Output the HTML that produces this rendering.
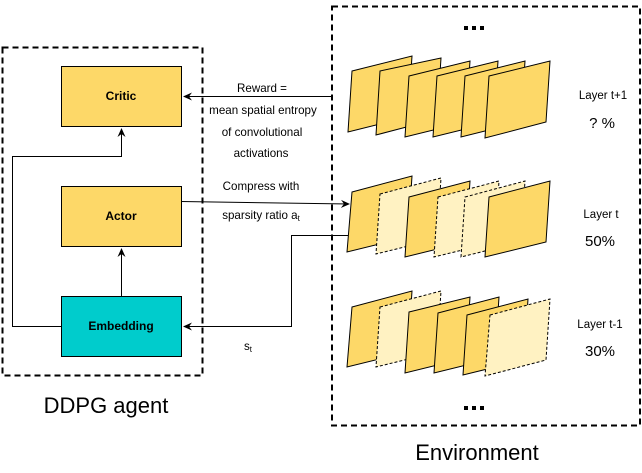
<!DOCTYPE html>
<html><head><meta charset="utf-8"><style>
html,body{margin:0;padding:0;background:#fff;}
svg{display:block;font-family:"Liberation Sans",Arial,sans-serif;}
</style></head><body>
<svg width="642" height="473" viewBox="0 0 642 473" xmlns="http://www.w3.org/2000/svg">
<defs>
<marker id="ar" markerWidth="10" markerHeight="10" refX="8" refY="5" orient="auto" markerUnits="userSpaceOnUse">
<path d="M0,1 L9,5 L0,9 L3,5 Z" fill="#000"/>
</marker>
</defs>
<rect x="2.5" y="47.5" width="200" height="328" fill="none" stroke="#000" stroke-width="2" stroke-dasharray="6,4"/>
<rect x="332" y="6.5" width="308" height="419" fill="none" stroke="#000" stroke-width="2" stroke-dasharray="6,4"/>
<rect x="61.5" y="66.5" width="120" height="60" fill="#FDD868" stroke="#000"/>
<rect x="61.5" y="186.5" width="120" height="60" fill="#FDD868" stroke="#000"/>
<rect x="61.5" y="296.5" width="120" height="60" fill="#00CCCC" stroke="#000"/>
<g font-weight="bold" font-size="12" text-anchor="middle">
<text x="121" y="100">Critic</text>
<text x="121" y="220">Actor</text>
<text x="121" y="330">Embedding</text>
</g>
<g fill="none" stroke="#000" stroke-width="1">
<path d="M121.5,296 V249" marker-end="url(#ar)"/>
<path d="M61,326.5 H12.5 V156.5 H121.5 V129" marker-end="url(#ar)"/>
<path d="M332,96.5 H184" marker-end="url(#ar)"/>
<path d="M181,201.5 L349,204" marker-end="url(#ar)"/>
<path d="M349,235.5 H291.5 V326.5 H184" marker-end="url(#ar)"/>
</g>
<g font-size="11.6" text-anchor="middle">
<text x="262" y="92">Reward =</text>
<text x="263" y="114">mean spatial entropy</text>
<text x="262" y="136">of convolutional</text>
<text x="261" y="157">activations</text>
<text x="261" y="190">Compress with</text>
<text x="261" y="219">sparsity ratio a<tspan font-size="8" dy="2">t</tspan></text>
<text x="248" y="350">s<tspan font-size="8" dy="2">t</tspan></text>
</g>
<g stroke="#000" stroke-width="1">
<path d="M352,71 l60,-15 l-4,61 l-60,15 z" fill="#FDD868"/>
<path d="M380,71 l61,-13 l-4,61 l-61,16 z" fill="#FDD868"/>
<path d="M409,76 l61,-15 l-4,61 l-61,15 z" fill="#FDD868"/>
<path d="M437,76 l61,-15 l-4,61 l-61,15 z" fill="#FDD868"/>
<path d="M465,76 l60,-15 l-4,61 l-60,15 z" fill="#FDD868"/>
<path d="M489,76 l61,-15 l-4,61 l-61,16 z" fill="#FDD868"/>
<path d="M352,192 l60,-16 l-4,61 l-61,15 z" fill="#FDD868"/>
<path d="M380,194 l61,-16 l-4,61 l-61,15 z" fill="#FFF2C2" stroke-dasharray="3,2"/>
<path d="M409,197 l61,-16 l-4,61 l-61,15 z" fill="#FDD868"/>
<path d="M438,197 l61,-16 l-4,61 l-61,15 z" fill="#FFF2C2" stroke-dasharray="3,2"/>
<path d="M465,197 l60,-16 l-4,61 l-60,15 z" fill="#FFF2C2" stroke-dasharray="3,2"/>
<path d="M489,197 l61,-16 l-4,61 l-61,15 z" fill="#FDD868"/>
<path d="M352,307 l60,-16 l-4,61 l-61,15 z" fill="#FDD868"/>
<path d="M380,307 l61,-16 l-4,61 l-61,15 z" fill="#FFF2C2" stroke-dasharray="3,2"/>
<path d="M409,312 l61,-15 l-4,61 l-61,15 z" fill="#FDD868"/>
<path d="M438,313 l61,-16 l-4,61 l-61,15 z" fill="#FDD868"/>
<path d="M467,315 l61,-16 l-4,61 l-61,15 z" fill="#FDD868"/>
<path d="M490,315 l60,-16 l-4,61 l-61,16 z" fill="#FFF2C2" stroke-dasharray="3,2"/>
</g>
<g text-anchor="middle">
<text x="603" y="99" font-size="11.5">Layer t+1</text>
<text x="602" y="128" font-size="15">? %</text>
<text x="601" y="218" font-size="11.5">Layer t</text>
<text x="600" y="246" font-size="15">50%</text>
<text x="600" y="328" font-size="11.5">Layer t-1</text>
<text x="600" y="356" font-size="15">30%</text>
<text x="106" y="413" font-size="22">DDPG agent</text>
<text x="477" y="460" font-size="22">Environment</text>
</g>
<g fill="#000">
<rect x="464" y="26" width="4" height="4"/><rect x="472" y="26" width="4" height="4"/><rect x="480" y="26" width="4" height="4"/>
<rect x="464" y="406" width="4" height="4"/><rect x="472" y="406" width="4" height="4"/><rect x="480" y="406" width="4" height="4"/>
</g>
</svg>
</body></html>
